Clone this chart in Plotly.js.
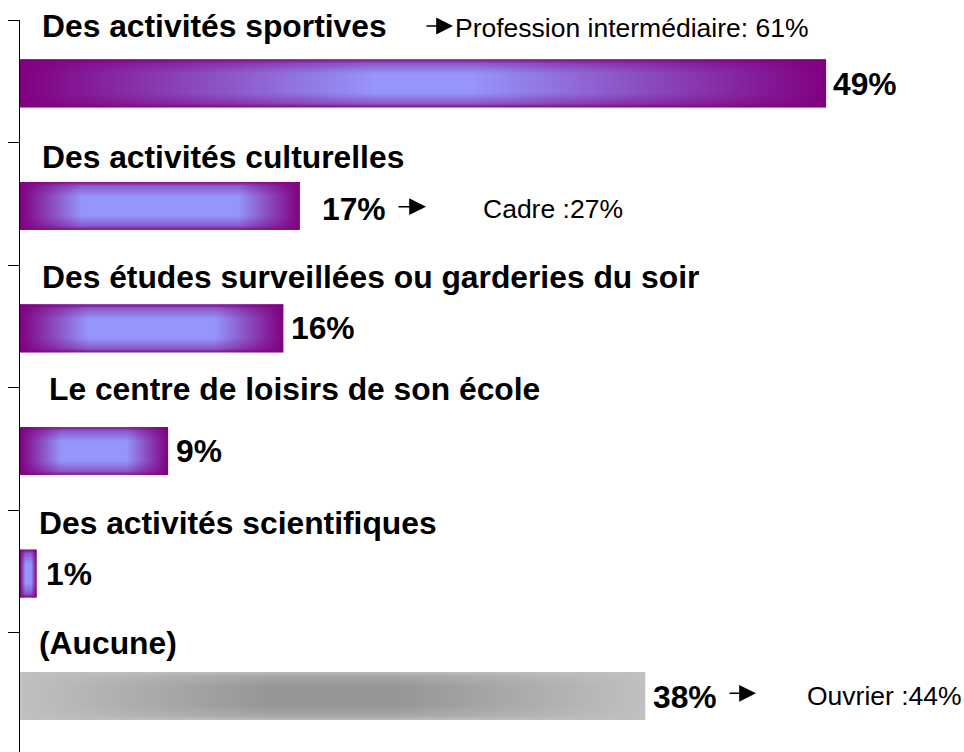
<!DOCTYPE html>
<html>
<head>
<meta charset="utf-8">
<script src="https://cdn.plot.ly/plotly-3.0.1.min.js"></script>
<style>
html,body{margin:0;padding:0;background:#ffffff;}
#chart{width:964px;height:752px;}
</style>
</head>
<body>
<div id="chart"></div>
<script>
// ---------------- DATA ----------------
var categories = [
  'Des activités sportives',
  'Des activités culturelles',
  'Des études surveillées ou garderies du soir',
  'Le centre de loisirs de son école',
  'Des activités scientifiques',
  '(Aucune)'
];
var values = [49, 17, 16, 9, 1, 38];
var valueLabels = ['49%', '17%', '16%', '9%', '1%', '38%'];
var noteRows = [0, 1, 5];
var noteTexts = ['Profession intermédiaire: 61%', 'Cadre :27%', 'Ouvrier :44%'];

// ---------------- STYLE ----------------
var FONT = 'Arial, "Liberation Sans", sans-serif';
var BOLD_SIZE = 31.8, NOTE_SIZE = 26.5;
var PURPLE = '#800080', BLUE = '#9595fb', LGRAY = '#c0c0c0', DGRAY = '#969696';
var edgeColors = [PURPLE, PURPLE, PURPLE, PURPLE, PURPLE, LGRAY];
var centerColors = [BLUE, BLUE, BLUE, BLUE, BLUE, DGRAY];
var edgeRGB = ['128,0,128','128,0,128','128,0,128','128,0,128','128,0,128','192,192,192'];
var fadeFrac = [0.44, 0.22, 0.26, 0.28, 0.32, 0.4];
var BAR_W = 0.389, BAR_OFF = -0.1775;         // bar band within a category row
var labelDx = [20, 20, 20, 27, 17, 17];        // px from axis
var labelDy = [-0.455, -0.385, -0.407, -0.493, -0.396, -0.416]; // row units
var valueDx = [5, 20, 6, 6, 8, 6];            // px after bar end
var valueDy = [-1, -3.5, 0, 0, 0, -1];         // px (positive = up)
var PXU = 16.45, ML = 20, MT = 20, ROWPX = 122.55;
function px2x(px){ return (px - ML) / PXU; }
function py2y(py){ return (py - MT) / ROWPX - 0.5; }
var arrowPx = [[425, 453, 26], [397, 426, 206.7], [728, 756, 693.3]]; // tail, head, y
var notePx = [[453, 28], [481, 208.5], [805, 696]];

// ---------------- TRACES ----------------
var rows = categories.map(function(c, i){ return i; });
var traces = [];
traces.push({
  type: 'bar', orientation: 'h', x: values, y: rows,
  width: BAR_W, offset: BAR_OFF,
  marker: {color: edgeColors, line: {width: 0}},
  hoverinfo: 'skip', showlegend: false
});
values.forEach(function(v, i){
  var y0 = i + BAR_OFF, y1 = i + BAR_OFF + BAR_W;
  var xs = [0, v, v, 0, 0], ys = [y0, y0, y1, y1, y0];
  var f = fadeFrac[i];
  traces.push({
    type: 'scatter', mode: 'lines', x: xs, y: ys, fill: 'toself',
    fillcolor: edgeColors[i], line: {width: 0},
    fillgradient: {type: 'horizontal', colorscale: [
      [0, edgeColors[i]], [f, centerColors[i]], [1 - f, centerColors[i]], [1, edgeColors[i]]
    ]},
    hoverinfo: 'skip', showlegend: false
  });
  var e = edgeRGB[i];
  traces.push({
    type: 'scatter', mode: 'lines', x: xs, y: ys, fill: 'toself',
    fillcolor: 'rgba(' + e + ',0)', line: {width: 0},
    fillgradient: {type: 'vertical', colorscale: [
      [0, 'rgba(' + e + ',0.9)'], [0.08, 'rgba(' + e + ',0.4)'], [0.3, 'rgba(' + e + ',0)'],
      [0.7, 'rgba(' + e + ',0)'], [0.92, 'rgba(' + e + ',0.4)'], [1, 'rgba(' + e + ',0.9)']
    ]},
    hoverinfo: 'skip', showlegend: false
  });
});

// ---------------- ANNOTATIONS ----------------
var annotations = [];
categories.forEach(function(c, i){
  annotations.push({
    x: 0, y: i + labelDy[i], xref: 'x', yref: 'y', xanchor: 'left', yanchor: 'middle',
    xshift: labelDx[i], text: c, showarrow: false,
    font: {family: FONT, size: BOLD_SIZE, color: '#000000', weight: 'bold'}
  });
  annotations.push({
    x: values[i], y: i + BAR_OFF + BAR_W / 2, xref: 'x', yref: 'y', xanchor: 'left', yanchor: 'middle',
    xshift: valueDx[i], yshift: valueDy[i], text: valueLabels[i], showarrow: false,
    font: {family: FONT, size: BOLD_SIZE, color: '#000000', weight: 'bold'}
  });
});
noteRows.forEach(function(r, k){
  var a = arrowPx[k];
  annotations.push({
    x: px2x(a[1]), y: py2y(a[2]), ax: px2x(a[0]), ay: py2y(a[2]),
    xref: 'x', yref: 'y', axref: 'x', ayref: 'y', text: '', showarrow: true,
    arrowhead: 2, arrowsize: 2.1, arrowwidth: 1.6, arrowcolor: '#000000', standoff: 0, startstandoff: 0
  });
  annotations.push({
    x: px2x(notePx[k][0]), y: py2y(notePx[k][1]), xref: 'x', yref: 'y',
    xanchor: 'left', yanchor: 'middle', text: noteTexts[k], showarrow: false,
    font: {family: FONT, size: NOTE_SIZE, color: '#000000'}
  });
});

var plotW = 964 - ML, plotH = 752 - MT;
var layout = {
  width: 964, height: 752,
  margin: {l: ML, r: 0, t: MT, b: 0, pad: 0, autoexpand: false},
  paper_bgcolor: '#ffffff', plot_bgcolor: '#ffffff',
  showlegend: false,
  xaxis: {range: [0, plotW / PXU], visible: false, fixedrange: true},
  yaxis: {
    range: [-0.5 + plotH / ROWPX, -0.5],
    tickvals: [-0.5, 0.5, 1.5, 2.5, 3.5, 4.5],
    ticks: 'outside', ticklen: 11, tickwidth: 1, tickcolor: '#000000',
    showticklabels: false, showline: true, linecolor: '#000000', linewidth: 1,
    showgrid: false, zeroline: false, fixedrange: true
  },
  annotations: annotations,
  font: {family: FONT}
};

Plotly.newPlot('chart', traces, layout, {displayModeBar: false, staticPlot: true});
</script>
</body>
</html>
